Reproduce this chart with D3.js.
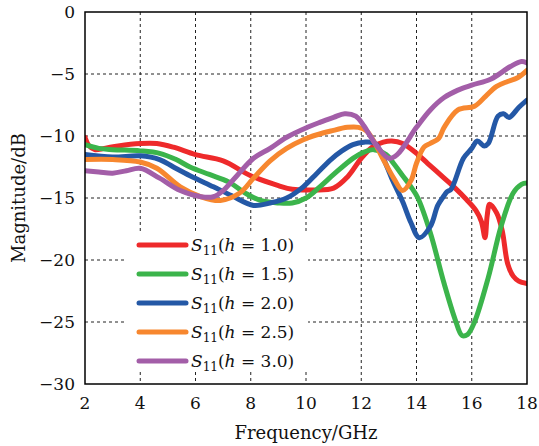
<!DOCTYPE html>
<html>
<head>
<meta charset="utf-8">
<script src="https://cdn.jsdelivr.net/npm/d3@7"></script>
<style>
body { margin: 0; background: #fff; }
text { font-family: 'DejaVu Serif', 'Liberation Serif', serif; fill: #111; }
</style>
</head>
<body>
<div id="chart"></div>
<script>
// data
let hValues = ['1.0', '1.5', '2.0', '2.5', '3.0']

let colors = ['#ee2a2b', '#3bb44b', '#2458a6', '#f7872f', '#a35ea8']

let freqRed = [2, 2.15, 2.35, 2.7, 3.2, 4, 4.6, 5.2, 6, 7, 8, 9, 9.5, 10.3, 11, 11.5, 12, 12.4, 12.8, 13.1, 13.5, 14, 14.4, 15, 15.4, 15.8, 16.15, 16.35, 16.48, 16.56, 16.65, 16.9, 17.1, 17.3, 17.5, 17.7, 18]
let s11Red = [-10.1, -10.8, -11.1, -11.0, -10.8, -10.6, -10.6, -10.9, -11.5, -12.0, -13.2, -14.0, -14.3, -14.35, -14.2, -13.3, -11.8, -10.9, -10.5, -10.4, -10.6, -11.4, -12.2, -13.4, -14.2, -15.1, -16.0, -16.9, -18.2, -16.4, -15.5, -16.2, -17.6, -20.3, -21.3, -21.7, -21.9]

let freqGreen = [2, 2.5, 3, 4, 4.7, 5.3, 5.8, 6.5, 7.2, 7.8, 8.35, 9.0, 9.5, 10, 10.5, 11, 11.7, 12.1, 12.45, 12.9, 13.2, 13.5, 13.8, 14.05, 14.5, 15, 15.4, 15.65, 15.85, 16.1, 16.6, 17.06, 17.5, 17.8, 18]
let s11Green = [-10.7, -11.0, -11.1, -11.2, -11.4, -11.9, -12.5, -13.1, -13.7, -14.6, -15.2, -15.4, -15.4, -15.0, -14.1, -13.1, -11.8, -11.3, -11.1, -11.5, -12.3, -13.2, -14.1, -15.0, -17.8, -21.9, -24.8, -26.1, -26.0, -25.0, -21.4, -17.3, -14.6, -13.9, -13.8]

let freqBlue = [2, 3, 4, 4.7, 5.2, 5.8, 6.65, 7.3, 8.1, 8.7, 9.3, 9.9, 10.4, 10.9, 11.3, 11.7, 12.1, 12.5, 12.8, 13.1, 13.5, 13.8, 14.1, 14.5, 14.77, 15.0, 15.1, 15.25, 15.7, 16.0, 16.2, 16.45, 16.6, 16.95, 17.15, 17.35, 17.7, 18]
let s11Blue = [-11.5, -11.7, -11.6, -11.9, -12.5, -13.2, -14.1, -14.8, -15.6, -15.4, -15.0, -14.1, -13.0, -11.9, -11.2, -10.7, -10.5, -10.6, -11.8, -13.4, -15.3, -17.0, -18.2, -17.3, -15.6, -14.8, -14.5, -14.3, -11.8, -11.0, -10.4, -10.8, -10.6, -8.4, -8.2, -8.5, -7.7, -7.1]

let freqOrange = [2, 3, 4, 4.6, 5.45, 6.2, 6.9, 7.6, 8.1, 8.7, 9.3, 9.9, 10.4, 10.9, 11.5, 11.9, 12.2, 12.5, 12.8, 13.2, 13.5, 13.8, 14.0, 14.27, 14.5, 14.8, 15.0, 15.5, 16.1, 16.5, 16.9, 17.3, 17.66, 18]
let s11Orange = [-11.9, -11.9, -12.1, -12.6, -14.1, -14.9, -15.2, -14.6, -13.4, -12.0, -11.0, -10.3, -9.9, -9.6, -9.3, -9.3, -9.6, -10.6, -11.9, -13.5, -14.4, -13.6, -12.2, -10.9, -10.6, -10.2, -9.3, -7.9, -7.6, -6.8, -6.0, -5.6, -5.3, -4.7]

let freqPurple = [2, 2.5, 3, 3.5, 4, 4.7, 5.45, 6.2, 6.65, 7.0, 7.5, 8.1, 8.7, 9.3, 10.05, 10.5, 11.0, 11.4, 11.8, 12.1, 12.35, 12.6, 13.0, 13.3, 14.0, 14.5, 15.0, 15.5, 16.0, 16.7, 17.4, 17.8, 18]
let s11Purple = [-12.8, -12.9, -13.0, -12.8, -12.6, -13.4, -14.4, -14.9, -14.9, -14.4, -13.2, -11.8, -11.0, -10.1, -9.3, -8.9, -8.5, -8.2, -8.4, -9.2, -10.1, -10.9, -11.8, -11.5, -9.3, -7.9, -6.9, -6.3, -5.9, -5.4, -4.4, -4.0, -4.1]

let xTicks = [2, 4, 6, 8, 10, 12, 14, 16, 18]
let yTicks = [0, -5, -10, -15, -20, -25, -30]

let series = [
    [freqRed, s11Red],
    [freqGreen, s11Green],
    [freqBlue, s11Blue],
    [freqOrange, s11Orange],
    [freqPurple, s11Purple]
].map((s, i) => ({
    h: hValues[i],
    color: colors[i],
    points: s[0].map((f, j) => [f, s[1][j]])
}))

let width = 539, height = 446
let margin = {left: 85, right: 12, top: 12, bottom: 62}

let svg = d3.select('#chart')
.append('svg')
.attr('width', width)
.attr('height', height)

let x = d3.scaleLinear()
.domain([2, 18])
.range([margin.left, width - margin.right])

let y = d3.scaleLinear()
.domain([-30, 0])
.range([height - margin.bottom, margin.top])

// grid
svg.append('g')
.selectAll('line')
.data(xTicks.slice(1, -1))
.join('line')
.attr('x1', d => x(d)).attr('x2', d => x(d))
.attr('y1', y(0)).attr('y2', y(-30))
.attr('stroke', '#222')
.attr('stroke-width', 1)
.attr('stroke-dasharray', '3,3')

svg.append('g')
.selectAll('line')
.data(yTicks.slice(1, -1))
.join('line')
.attr('y1', d => y(d)).attr('y2', d => y(d))
.attr('x1', x(2)).attr('x2', x(18))
.attr('stroke', '#222')
.attr('stroke-width', 1)
.attr('stroke-dasharray', '3,3')

svg.append('clipPath')
.attr('id', 'clip')
.append('rect')
.attr('x', x(2)).attr('y', y(0))
.attr('width', x(18) - x(2))
.attr('height', y(-30) - y(0))

let line = d3.line()
.x(d => x(d[0]))
.y(d => y(d[1]))
.curve(d3.curveCatmullRom.alpha(0.5))

svg.append('g')
.attr('clip-path', 'url(#clip)')
.selectAll('path')
.data(series)
.join('path')
.attr('d', d => line(d.points))
.attr('fill', 'none')
.attr('stroke', d => d.color)
.attr('stroke-width', 5)
.attr('stroke-linejoin', 'round')
.attr('stroke-linecap', 'round')

// frame
svg.append('rect')
.attr('x', x(2)).attr('y', y(0))
.attr('width', x(18) - x(2))
.attr('height', y(-30) - y(0))
.attr('fill', 'none')
.attr('stroke', '#000')
.attr('stroke-width', 1.5)

// tick labels
svg.append('g')
.selectAll('text')
.data(xTicks)
.join('text')
.attr('x', d => x(d))
.attr('y', y(-30) + 25)
.attr('text-anchor', 'middle')
.style('font-size', '17px')
.text(d => d)

svg.append('g')
.selectAll('text')
.data(yTicks)
.join('text')
.attr('x', x(2) - 10)
.attr('y', d => y(d) + 6)
.attr('text-anchor', 'end')
.style('font-size', '17px')
.text(d => d < 0 ? '\u2212' + (-d) : d)

svg.append('text')
.attr('x', (x(2) + x(18)) / 2)
.attr('y', 439)
.attr('text-anchor', 'middle')
.style('font-size', '18px')
.text('Frequency/GHz')

svg.append('text')
.attr('transform', `translate(25, ${(y(0) + y(-30)) / 2}) rotate(-90)`)
.attr('text-anchor', 'middle')
.style('font-size', '18px')
.text('Magnitude/dB')

// legend
let legend = svg.append('g')
.attr('transform', 'translate(125, 233)')

legend.append('rect')
.attr('width', 183)
.attr('height', 137)
.attr('fill', '#fff')

let items = legend.selectAll('g')
.data(series)
.join('g')
.attr('transform', (d, i) => `translate(0, ${12 + i * 29})`)

items.append('line')
.attr('x1', 14).attr('x2', 61)
.attr('stroke', d => d.color)
.attr('stroke-width', 5)
.attr('stroke-linecap', 'round')

let label = items.append('text')
.attr('x', 66)
.attr('y', 6)
.style('font-size', '17px')

label.append('tspan').style('font-style', 'italic').text('S')
label.append('tspan').attr('dy', 4).style('font-size', '12px').text('11')
label.append('tspan').attr('dy', -4).text('(')
label.append('tspan').style('font-style', 'italic').text('h')
label.append('tspan').text(d => ' = ' + d.h + ')')
</script>
</body>
</html>
